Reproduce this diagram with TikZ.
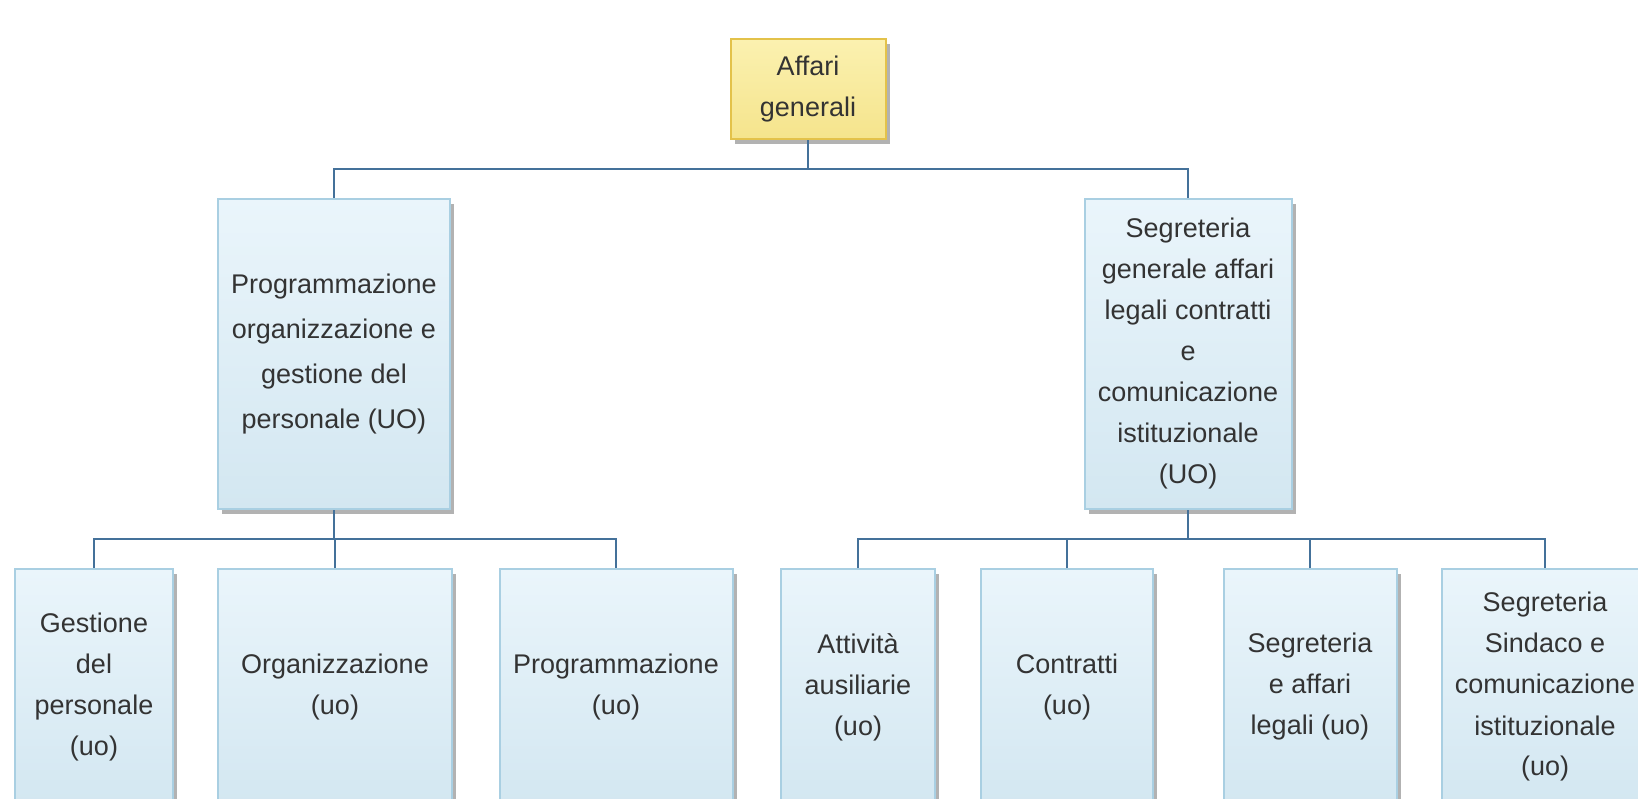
\documentclass[tikz,border=0pt]{standalone}
\usepackage{fontspec}
\setmainfont{Liberation Sans}
\usetikzlibrary{shadows}

\definecolor{azzurroA}{HTML}{EAF5FB}
\definecolor{azzurroB}{HTML}{D3E7F1}
\definecolor{bordoblu}{HTML}{A9CFE2}
\definecolor{gialloA}{HTML}{FBF1B0}
\definecolor{gialloB}{HTML}{F5E48C}
\definecolor{bordooro}{HTML}{E3C24A}
\definecolor{lineablu}{HTML}{44719A}
\definecolor{testo}{HTML}{333333}

\tikzset{
    ufficio/.style={draw=bordoblu, line width=1pt, top color=azzurroA, bottom color=azzurroB,
        drop shadow={shadow xshift=2.2pt, shadow yshift=-2.5pt, fill=black!55, opacity=.55},
        align=center, text=testo, font=\fontsize{13.5}{20.5}\selectfont,
        inner sep=0pt, anchor=north},
    vertice/.style={ufficio, draw=bordooro, top color=gialloA, bottom color=gialloB},
    basso/.style={ufficio, minimum height=118pt},
    ramo/.style={draw=lineablu, line width=1pt}
}

\begin{document}
\begin{tikzpicture}[x=0.5pt, y=-0.5pt]
    \useasboundingbox (0,0) rectangle (1638,798);
    \clip (0,0) rectangle (1638,798);
    %% linee di collegamento (bus orizzontali)
    \coordinate (busA) at (0,169);
    \coordinate (busB) at (0,539);

    \node[vertice, minimum width=77.5pt, minimum height=50pt] (affari) at (808,38)
        {Affari\\generali};
    \node[ufficio, minimum width=116pt, minimum height=155pt,
        font=\fontsize{13.5}{22.5}\selectfont] (progr) at (334,198)
        {Programmazione\\organizzazione e\\gestione del\\personale (UO)};
    \node[ufficio, minimum width=103.5pt, minimum height=155pt] (segr) at (1188,198)
        {Segreteria\\generale affari\\legali contratti\\e\\comunicazione\\istituzionale\\(UO)};

    %% unita' operative in basso
    \node[basso, minimum width=79pt] (b1) at (94,568) {Gestione\\del\\personale\\(uo)};
    \node[basso, minimum width=117pt] (b2) at (335,568) {Organizzazione\\(uo)};
    \node[basso, minimum width=116.5pt] (b3) at (616,568) {Programmazione\\(uo)};
    \node[basso, minimum width=77pt] (b4) at (858,568) {Attività\\ausiliarie\\(uo)};
    \node[basso, minimum width=86pt] (b5) at (1067,568) {Contratti\\(uo)};
    \node[basso, minimum width=86.5pt] (b6) at (1310,568) {Segreteria\\e affari\\legali (uo)};
    \node[basso, minimum width=103pt] (b7) at (1545,568)
        {Segreteria\\Sindaco e\\comunicazione\\istituzionale\\(uo)};

    \draw[ramo] (affari.south) -- (affari.south |- busA);
    \draw[ramo] (progr.north) |- (segr.north |- busA) -- (segr.north);

    \draw[ramo] (progr.south) -- (progr.south |- busB);
    \draw[ramo] (b1.north) |- (b3.north |- busB) -- (b3.north);
    \draw[ramo] (b2.north) -- (b2.north |- busB);

    \draw[ramo] (segr.south) -- (segr.south |- busB);
    \draw[ramo] (b4.north) |- (b7.north |- busB) -- (b7.north);
    \foreach \nome in {b5,b6}
    {
        \draw[ramo] (\nome.north) -- (\nome.north |- busB);
    }
\end{tikzpicture}
\end{document}
